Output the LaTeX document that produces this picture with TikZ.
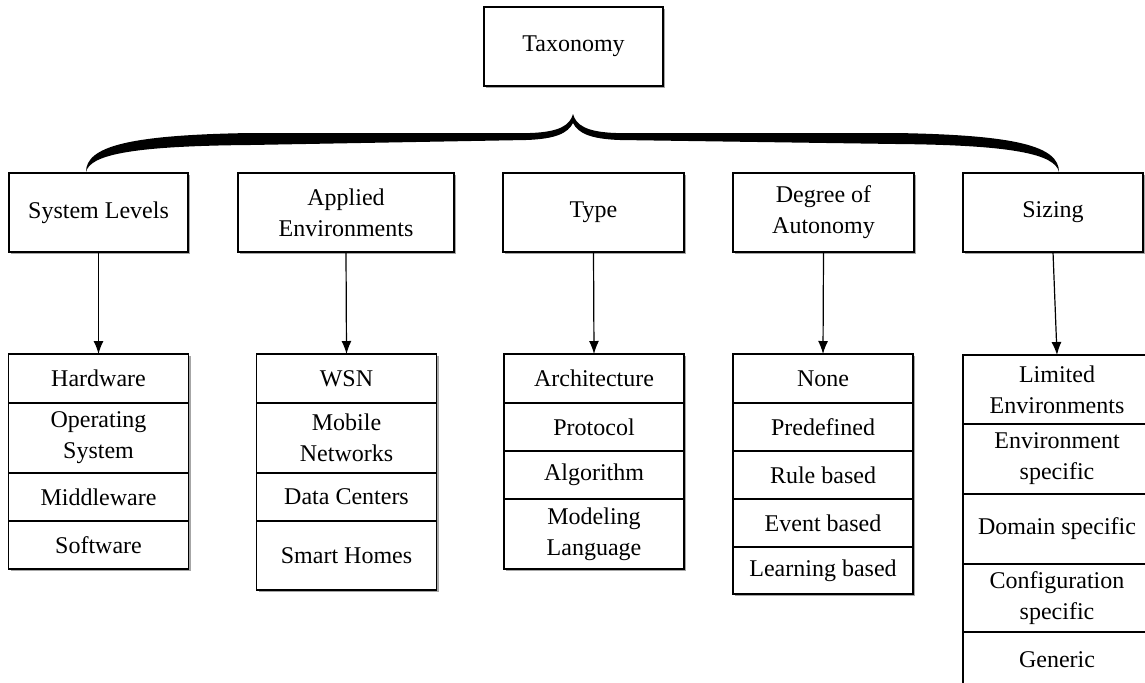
\documentclass[tikz,border=0pt]{standalone}
\usepackage{fontspec}
\setmainfont{Liberation Serif}
\usetikzlibrary{arrows.meta,positioning,shadows}

\tikzset{
  plainbox/.style={draw, line width=0.75pt, fill=white, align=center,
    inner sep=2pt, outer sep=0pt, font=\fontsize{12}{15.5}\selectfont,
    drop shadow={shadow xshift=1.2pt, shadow yshift=-1.2pt, fill=black, opacity=0.35}},
  catbox/.style={plainbox, minimum height=39.5pt},
  itembox/.style={plainbox, minimum width=90pt},
  >={Latex[length=6.5pt,width=5pt]}
}

\begin{document}
\begin{tikzpicture}[x=0.5pt,y=-0.5pt]
                % page size, the last column runs off the page
                \useasboundingbox (0,0) rectangle (1145,682);
                \clip (0,0) rectangle (1145,682);

                % root of the taxonomy
                \node[catbox, minimum width=89.5pt] (tax) at (573.5,46.5) {Taxonomy};

                % curly brace under the root
                \fill (86,172) .. controls (86,146) and (130,135) .. (250,133) -- (530,133)
                      .. controls (560,132) and (570,125) .. (573,114)
                      .. controls (576,125) and (586,132) .. (616,133) -- (896,133)
                      .. controls (1016,135) and (1059,146) .. (1059,172)
                      .. controls (1055,154) and (1012,145) .. (896,144) -- (620,140)
                      .. controls (590,139) and (578,133) .. (573,123)
                      .. controls (568,133) and (556,139) .. (526,140) -- (250,145)
                      .. controls (130,146) and (90,155) .. (86,172) -- cycle;

                % categories
                \node[catbox, minimum width=89.5pt] (levels) at (98.5,212.5) {System Levels};
                \node[catbox, minimum width=108pt] (envs) at (346,212.5) {Applied\\Environments};
                \node[catbox, minimum width=90.5pt] (type) at (593.5,212.5) {Type};
                \node[catbox, minimum width=90.5pt] (auto) at (823.5,212.5) {Degree of\\Autonomy};
                \node[catbox, minimum width=90pt] (size) at (1053,212.5) {Sizing};

                % system levels
                \node[itembox, anchor=north, minimum height=24.5pt] (hw) at (98.5,354) {Hardware};
                \node[itembox, below=0pt of hw, minimum height=35pt] (os) {Operating\\System};
                \node[itembox, below=0pt of os, minimum height=24pt] (mw) {Middleware};
                \node[itembox, below=0pt of mw, minimum height=24pt] (sw) {Software};

                % applied environments
                \node[itembox, anchor=north, minimum height=24.5pt] (wsn) at (346.5,354) {WSN};
                \node[itembox, below=0pt of wsn, minimum height=35pt] (mob) {Mobile\\Networks};
                \node[itembox, below=0pt of mob, minimum height=24pt] (dc) {Data Centers};
                \node[itembox, below=0pt of dc, minimum height=34.5pt] (home) {Smart Homes};

                % type
                \node[itembox, anchor=north, minimum height=24.5pt] (arch) at (594,354) {Architecture};
                \node[itembox, below=0pt of arch, minimum height=24pt] (prot) {Protocol};
                \node[itembox, below=0pt of prot, minimum height=24pt] (algo) {Algorithm};
                \node[itembox, below=0pt of algo, minimum height=35pt] (lang) {Modeling\\Language};

                % degree of autonomy
                \node[itembox, anchor=north, minimum height=24.5pt] (none) at (823,354) {None};
                \node[itembox, below=0pt of none, minimum height=24pt] (pre) {Predefined};
                \node[itembox, below=0pt of pre, minimum height=24pt] (rule) {Rule based};
                \node[itembox, below=0pt of rule, minimum height=24pt] (event) {Event based};
                \node[itembox, below=0pt of event, minimum height=23.5pt] (learn) {Learning based};

                % sizing
                \node[itembox, minimum width=94pt, anchor=north, minimum height=34.5pt] (lim) at (1057,355) {Limited\\Environments};
                \node[itembox, minimum width=94pt, below=0pt of lim, minimum height=35pt] (envsp) {Environment\\specific};
                \node[itembox, minimum width=94pt, below=0pt of envsp, minimum height=35pt] (dom) {Domain specific};
                \node[itembox, minimum width=94pt, below=0pt of dom, minimum height=34pt] (conf) {Configuration\\specific};
                \node[itembox, minimum width=94pt, below=0pt of conf, minimum height=28pt] (gen) {Generic};

                % arrows from the categories to their lists
                \draw[->, line width=0.6pt] (levels.south) -- (hw.north);
                \draw[->, line width=0.6pt] (envs.south) -- (wsn.north);
                \draw[->, line width=0.6pt] (type.south) -- (arch.north);
                \draw[->, line width=0.6pt] (auto.south) -- (none.north);
                \draw[->, line width=0.6pt] (size.south) -- (lim.north);
\end{tikzpicture}
\end{document}
